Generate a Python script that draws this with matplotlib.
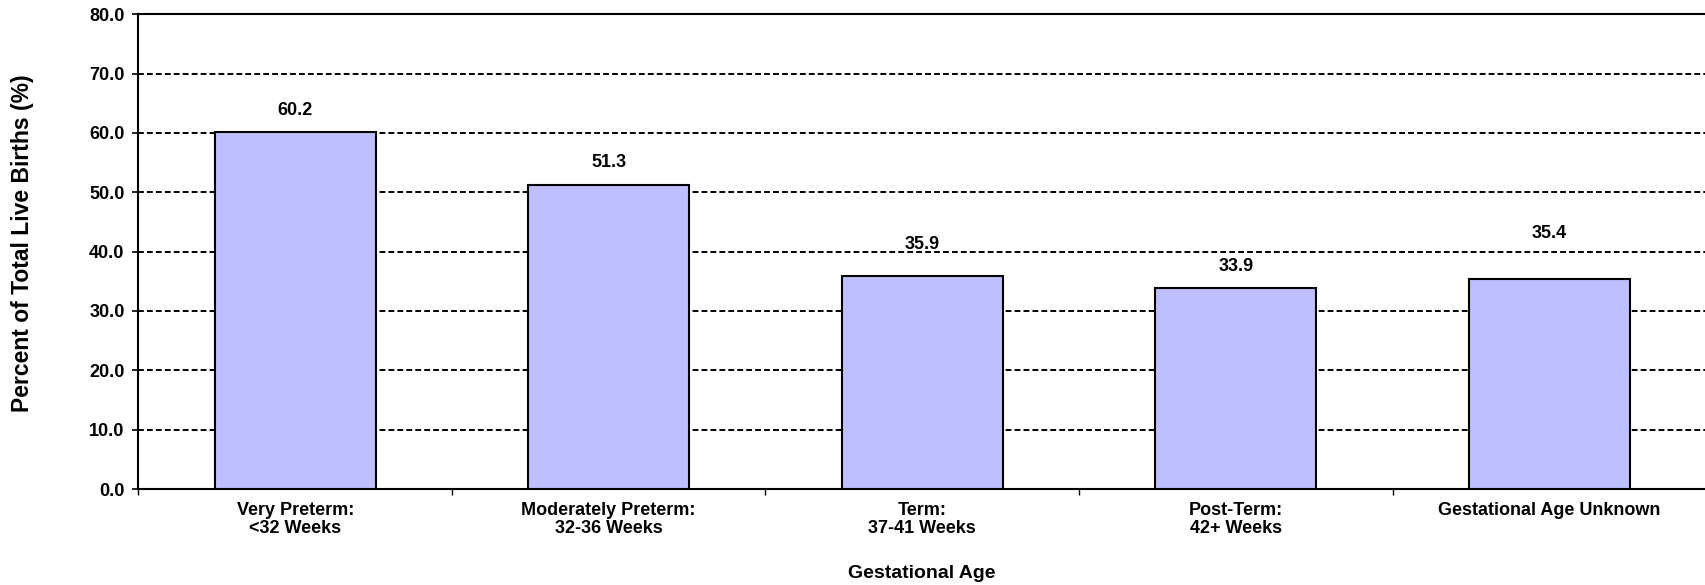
import numpy as np
import matplotlib
matplotlib.use("Agg")
import matplotlib.pyplot as plt

# values
categories = [
    "Very Preterm:\n<32 Weeks",
    "Moderately Preterm:\n32-36 Weeks",
    "Term:\n37-41 Weeks",
    "Post-Term:\n42+ Weeks",
    "Gestational Age Unknown",
]
percents = [60.2, 51.3, 35.9, 33.9, 35.4]
y_ticks = [0, 10, 20, 30, 40, 50, 60, 70, 80]

# label placement above each bar (pixels), as in the original
label_offsets = [21, 22, 31, 21, 45]

plt.rcParams['font.family'] = ['Liberation Sans', 'DejaVu Sans']
plt.rcParams['font.weight'] = 'bold'

fig = plt.figure(figsize=(17.05, 5.85), dpi=100)
ax = fig.add_axes([0.0812, 0.1641, 0.9194, 0.8115])

x = np.arange(len(categories))

ax.set_ylim(0, 80)
ax.set_xlim(-0.5, len(categories) - 0.5)
ax.set_yticks(y_ticks, [f"{v:.1f}" for v in y_ticks])

# dashed grid
ax.yaxis.grid(True, color='black', linewidth=1.4, linestyle=(0, (3.0, 1.6)))
ax.set_axisbelow(True)

ax.bar(x, percents, width=0.514, color='#BFBFFF', edgecolor='black',
       linewidth=1.5, zorder=3)

for xi, v, off in zip(x, percents, label_offsets):
    ax.annotate(f"{v:.1f}", (xi, v), xytext=(0, off), textcoords='offset pixels',
                ha='center', va='center', fontsize=13, fontweight='bold', zorder=4)

# category labels at centres, tick marks at boundaries
ax.set_xticks(x, categories)
for lbl in ax.get_xticklabels():
    lbl.set_linespacing(1.1)
ax.set_xticks(np.arange(len(categories) + 1) - 0.5, minor=True)
ax.tick_params(axis='x', which='major', length=0, pad=9, labelsize=13)
ax.tick_params(axis='x', which='minor', length=4, width=1, direction='out')
ax.tick_params(axis='y', length=4, width=1.2, pad=6, labelsize=13)

for name in ['left', 'bottom', 'top']:
    ax.spines[name].set_linewidth(1.5)
    ax.spines[name].set_color('black')
ax.spines['right'].set_visible(False)

ax.set_xlabel("Gestational Age", fontsize=14, fontweight='bold')
ax.xaxis.set_label_coords(0.5, -0.177)
ax.xaxis.label.set_va('center')
ax.set_ylabel("Percent of Total Live Births (%)", fontsize=16.5, fontweight='bold')
ax.yaxis.set_label_coords(-0.0737, 0.518)
ax.yaxis.label.set_va('center')

fig.savefig("out.png", dpi=100)
